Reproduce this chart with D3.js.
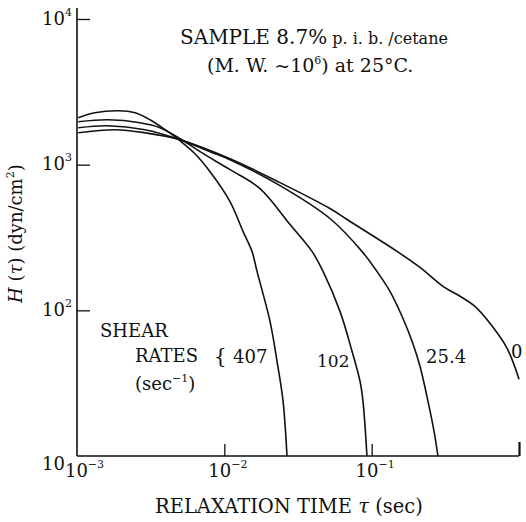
<!DOCTYPE html>
<html>
<head>
<meta charset="utf-8">
<script src="https://cdn.jsdelivr.net/npm/d3@7"></script>
<style>
  html, body { margin: 0; padding: 0; background: #fff; }
  svg { display: block; }
  text { font-family: "DejaVu Serif", "Liberation Serif", "Times New Roman", serif; fill: #111; }
</style>
</head>
<body>
<svg id="chart" width="526" height="522"></svg>
<script>
// ---- data ----
const shearRates = ["407", "102", "25.4", "0"];

const tau_407 = [0.00102, 0.00132, 0.00190, 0.00248, 0.00313, 0.00396, 0.00500, 0.00632, 0.00800, 0.01093, 0.01339, 0.01541, 0.01667, 0.02042, 0.02278, 0.02503, 0.02663];
const H_407   = [2100, 2270, 2344, 2270, 2033, 1738, 1460, 1189, 895, 558, 348, 254, 185, 84, 44.7, 23.8, 10];

const tau_102 = [0.00102, 0.00162, 0.00268, 0.00366, 0.00541, 0.00684, 0.01093, 0.01746, 0.02793, 0.03936, 0.04677, 0.06095, 0.07357, 0.08337, 0.08730, 0.09290];
const H_102   = [1970, 2033, 1940, 1792, 1437, 1228, 924, 685, 388, 254, 185, 98.4, 52.4, 32.6, 23.8, 10];

const tau_25 = [0.00102, 0.00162, 0.00289, 0.00500, 0.00800, 0.01093, 0.02388, 0.05212, 0.08590, 0.1086, 0.1331, 0.1607, 0.1880, 0.2128, 0.2410, 0.2649, 0.2818];
const H_25   = [1792, 1849, 1738, 1484, 1228, 1082, 718, 427, 254, 185, 135, 91, 61.3, 41.3, 23.8, 14.8, 10];

const tau_0 = [0.00102, 0.00181, 0.00289, 0.00500, 0.01093, 0.02388, 0.05212, 0.06808, 0.1486, 0.2128, 0.3048, 0.398, 0.502, 0.635, 0.830, 1.0];
const H_0   = [1656, 1738, 1656, 1484, 1099, 753, 500, 420, 254, 197, 146, 125, 106.4, 81.5, 54.9, 33.7];

const xTicks = [1e-3, 1e-2, 1e-1, 1];
const xTickExp = ["−3", "−2", "−1", ""];
const yTicks = [10, 1e2, 1e3, 1e4];
const yTickExp = ["", "2", "3", "4"];

// ---- chart ----
const FONT = '"DejaVu Serif", "Liberation Serif", "Times New Roman", serif';
const svg = d3.select("#chart");
const x = d3.scaleLog().domain([1e-3, 1]).range([77, 519]);
const y = d3.scaleLog().domain([10, 1e4]).range([456, 19]);

const series = [
  { name: shearRates[0], tau: tau_407, H: H_407 },
  { name: shearRates[1], tau: tau_102, H: H_102 },
  { name: shearRates[2], tau: tau_25,  H: H_25 },
  { name: shearRates[3], tau: tau_0,   H: H_0 }
];

// axes lines
svg.append("line")
  .attr("x1", x(1e-3)).attr("x2", x(1e-3))
  .attr("y1", 8).attr("y2", y(10))
  .attr("stroke", "#111").attr("stroke-width", 1.6);
svg.append("line")
  .attr("x1", x(1e-3)).attr("x2", x(1))
  .attr("y1", y(10)).attr("y2", y(10))
  .attr("stroke", "#111").attr("stroke-width", 1.6);

// y axis (inward ticks)
const yAxis = d3.axisLeft(y).tickValues(yTicks).tickSize(-13).tickSizeOuter(0).tickFormat(() => "");
const gy = svg.append("g").attr("transform", `translate(${x(1e-3)},0)`).call(yAxis)
  .attr("font-family", FONT);
gy.select(".domain").remove();
gy.selectAll(".tick line").attr("stroke", "#111").attr("stroke-width", 1.3);
gy.selectAll(".tick").filter(d => d === 10).select("line").remove();
gy.selectAll(".tick text").each(function(d) {
  const t = d3.select(this);
  t.attr("text-anchor", "start").attr("x", -35).attr("dy", null)
   .attr("y", d === 10 ? 13 : 5)
   .style("font-size", "18px").style("font-family", FONT).attr("fill", "#111");
  t.text(null);
  t.append("tspan").text("10");
  const e = yTickExp[yTicks.indexOf(d)];
  if (e) t.append("tspan").attr("dy", -9).style("font-size", "11px").text(e);
});

// x axis (inward ticks)
const xAxis = d3.axisBottom(x).tickValues(xTicks).tickSize(-12).tickSizeOuter(0).tickFormat(() => "");
const gx = svg.append("g").attr("transform", `translate(0,${y(10)})`).call(xAxis)
  .attr("font-family", FONT);
gx.select(".domain").remove();
gx.selectAll(".tick line").attr("stroke", "#111").attr("stroke-width", 1.3);
gx.selectAll(".tick").filter(d => d === 1).select("line").attr("stroke-width", 2.2).attr("y2", -14);
gx.selectAll(".tick").filter(d => d === 1e-3).select("line").remove();
gx.selectAll(".tick text").each(function(d) {
  const t = d3.select(this);
  const i = xTicks.indexOf(d);
  t.text(null);
  if (!xTickExp[i]) return;
  t.attr("text-anchor", "middle").attr("dy", null).attr("y", 21)
   .attr("x", i === 0 ? 7 : 3)
   .style("font-size", "18px").style("font-family", FONT).attr("fill", "#111");
  t.append("tspan").text("10");
  t.append("tspan").attr("dy", -9).style("font-size", "11px").text(xTickExp[i]);
});

// curves
const line = d3.line()
  .x(d => x(d[0]))
  .y(d => y(d[1]))
  .curve(d3.curveCatmullRom.alpha(0.5));

svg.append("g").selectAll("path")
  .data(series)
  .join("path")
  .attr("d", s => line(s.tau.map((t, i) => [t, s.H[i]])))
  .attr("fill", "none")
  .attr("stroke", "#111")
  .attr("stroke-width", 1.6);

// annotations
const t1 = svg.append("text").attr("x", 180).attr("y", 44).style("font-size", "20px");
t1.append("tspan").text("SAMPLE 8.7%");
t1.append("tspan").style("font-size", "16px").text(" p. i. b. /cetane");

const t2 = svg.append("text").attr("x", 207).attr("y", 72).style("font-size", "19px");
t2.append("tspan").text("(M. W. ~10");
t2.append("tspan").attr("dy", -8).style("font-size", "11px").text("6");
t2.append("tspan").attr("dy", 8).text(") at 25°C.");

svg.append("text").attr("x", 100).attr("y", 337).style("font-size", "18px").text("SHEAR");
svg.append("text").attr("x", 135).attr("y", 362).style("font-size", "18px").text("RATES");
svg.append("text").attr("x", 214).attr("y", 363).style("font-size", "20px").text("{");
svg.append("text").attr("x", 233).attr("y", 363).style("font-size", "18px").text(shearRates[0]);
const t3 = svg.append("text").attr("x", 135).attr("y", 390).style("font-size", "18px");
t3.append("tspan").text("(sec");
t3.append("tspan").attr("dy", -8).style("font-size", "11px").text("−1");
t3.append("tspan").attr("dy", 8).text(")");

svg.append("text").attr("x", 317).attr("y", 367).style("font-size", "17px").text(shearRates[1]);
svg.append("text").attr("x", 426).attr("y", 363).style("font-size", "18px").text(shearRates[2]);
svg.append("text").attr("x", 511).attr("y", 358).style("font-size", "18px").text(shearRates[3]);

// axis titles
const xt = svg.append("text").attr("x", 155).attr("y", 513).style("font-size", "19.5px");
xt.append("tspan").text("RELAXATION TIME ");
xt.append("tspan").style("font-style", "italic").text("τ");
xt.append("tspan").text(" (sec)");

const yt = svg.append("text").attr("transform", "translate(22,303) rotate(-90)").style("font-size", "18px");
yt.append("tspan").style("font-style", "italic").text("H");
yt.append("tspan").text(" (");
yt.append("tspan").style("font-style", "italic").text("τ");
yt.append("tspan").text(")   (dyn/cm");
yt.append("tspan").attr("dy", -8).style("font-size", "11px").text("2");
yt.append("tspan").attr("dy", 8).text(")");
</script>
</body>
</html>
